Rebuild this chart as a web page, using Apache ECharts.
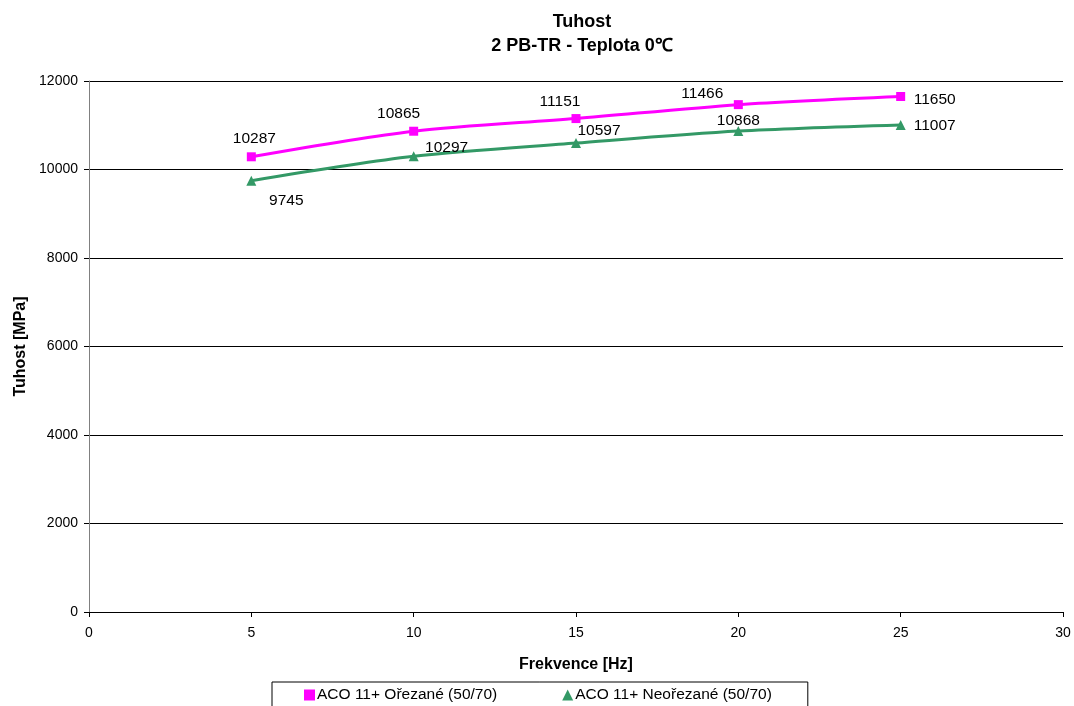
<!DOCTYPE html>
<html>
<head>
<meta charset="utf-8">
<script src="https://cdn.jsdelivr.net/npm/echarts@6/dist/echarts.min.js"></script>
<style>
  html, body { margin: 0; padding: 0; background: #fff; }
  #chart { width: 1074px; height: 706px; }
</style>
</head>
<body>
<div id="chart"></div>
<script>
// Frequency [Hz] and stiffness [MPa] for both sample sets
const frequencies = [5, 10, 15, 20, 25];
const orezane = [10287, 10865, 11151, 11466, 11650];
const neorezane = [9745, 10297, 10597, 10868, 11007];
const seriesNames = ['ACO 11+ Ořezané (50/70)', 'ACO 11+ Neořezané (50/70)'];

// Label offsets (px) from each marker's centre
const orezaneOffsets = [[3, -18], [-15, -18], [-16, -17], [-36, -11], [34, 3]];
const neorezaneOffsets = [[35, 20], [33, -9], [23, -12], [0, -10], [34, 1]];

function build(values, offsets) {
  return values.map((v, i) => ({
    value: [frequencies[i], v],
    label: { position: 'inside', offset: offsets[i] }
  }));
}

const font = '"Liberation Sans", Arial, sans-serif';
const chart = echarts.init(document.getElementById('chart'), null, { renderer: 'canvas' });

const labelStyle = {
  show: true, fontFamily: font, fontSize: 15.5, color: '#000',
  formatter: p => String(p.value[1])
};

chart.setOption({
  animation: false,
  backgroundColor: '#fff',
  textStyle: { fontFamily: font },
  title: {
    text: 'Tuhost\n2 PB-TR - Teplota 0℃',
    left: 577, top: 5, textAlign: 'center',
    textStyle: { fontFamily: font, fontSize: 18, fontWeight: 'bold', color: '#000', lineHeight: 24 }
  },
  grid: { left: 89, right: 11, top: 81, bottom: 94, containLabel: false, outerBoundsMode: 'none' },
  legend: {
    left: 272, top: 682,
    padding: [5, 36, 12, 32],
    borderColor: '#000', borderWidth: 1,
    itemGap: 65, itemWidth: 11, itemHeight: 11,
    textStyle: { fontFamily: font, fontSize: 15.5, color: '#000', padding: [0, 0, 0, -3] },
    data: [
      { name: seriesNames[0], icon: 'rect' },
      { name: seriesNames[1], icon: 'triangle' }
    ]
  },
  xAxis: {
    type: 'value', min: 0, max: 30, interval: 5,
    name: 'Frekvence [Hz]', nameLocation: 'middle', nameGap: 45,
    nameTextStyle: { fontFamily: font, fontSize: 16, fontWeight: 'bold', color: '#000' },
    axisLine: { show: true, lineStyle: { color: '#000', width: 1 } },
    axisTick: { show: true, inside: false, length: 5, lineStyle: { color: '#000' } },
    axisLabel: { fontFamily: font, fontSize: 14, color: '#000', margin: 14 },
    splitLine: { show: false }
  },
  yAxis: {
    type: 'value', min: 0, max: 12000, interval: 2000,
    name: 'Tuhost [MPa]', nameLocation: 'middle', nameGap: 60, nameRotate: 90,
    nameTextStyle: { fontFamily: font, fontSize: 16, fontWeight: 'bold', color: '#000' },
    axisLine: { show: true, lineStyle: { color: '#808080', width: 1 } },
    axisTick: { show: true, length: 5, lineStyle: { color: '#000' } },
    axisLabel: { fontFamily: font, fontSize: 14, color: '#000', margin: 11, formatter: v => String(v) },
    splitLine: { show: true, lineStyle: { color: '#000', width: 1 } }
  },
  series: [
    {
      name: seriesNames[0], type: 'line', smooth: 0.3,
      symbol: 'rect', symbolSize: 9,
      itemStyle: { color: '#FF00FF' },
      lineStyle: { color: '#FF00FF', width: 3 },
      label: labelStyle,
      data: build(orezane, orezaneOffsets)
    },
    {
      name: seriesNames[1], type: 'line', smooth: 0.3,
      symbol: 'triangle', symbolSize: 10,
      itemStyle: { color: '#339966' },
      lineStyle: { color: '#339966', width: 3 },
      label: labelStyle,
      data: build(neorezane, neorezaneOffsets)
    }
  ]
});
</script>
</body>
</html>
